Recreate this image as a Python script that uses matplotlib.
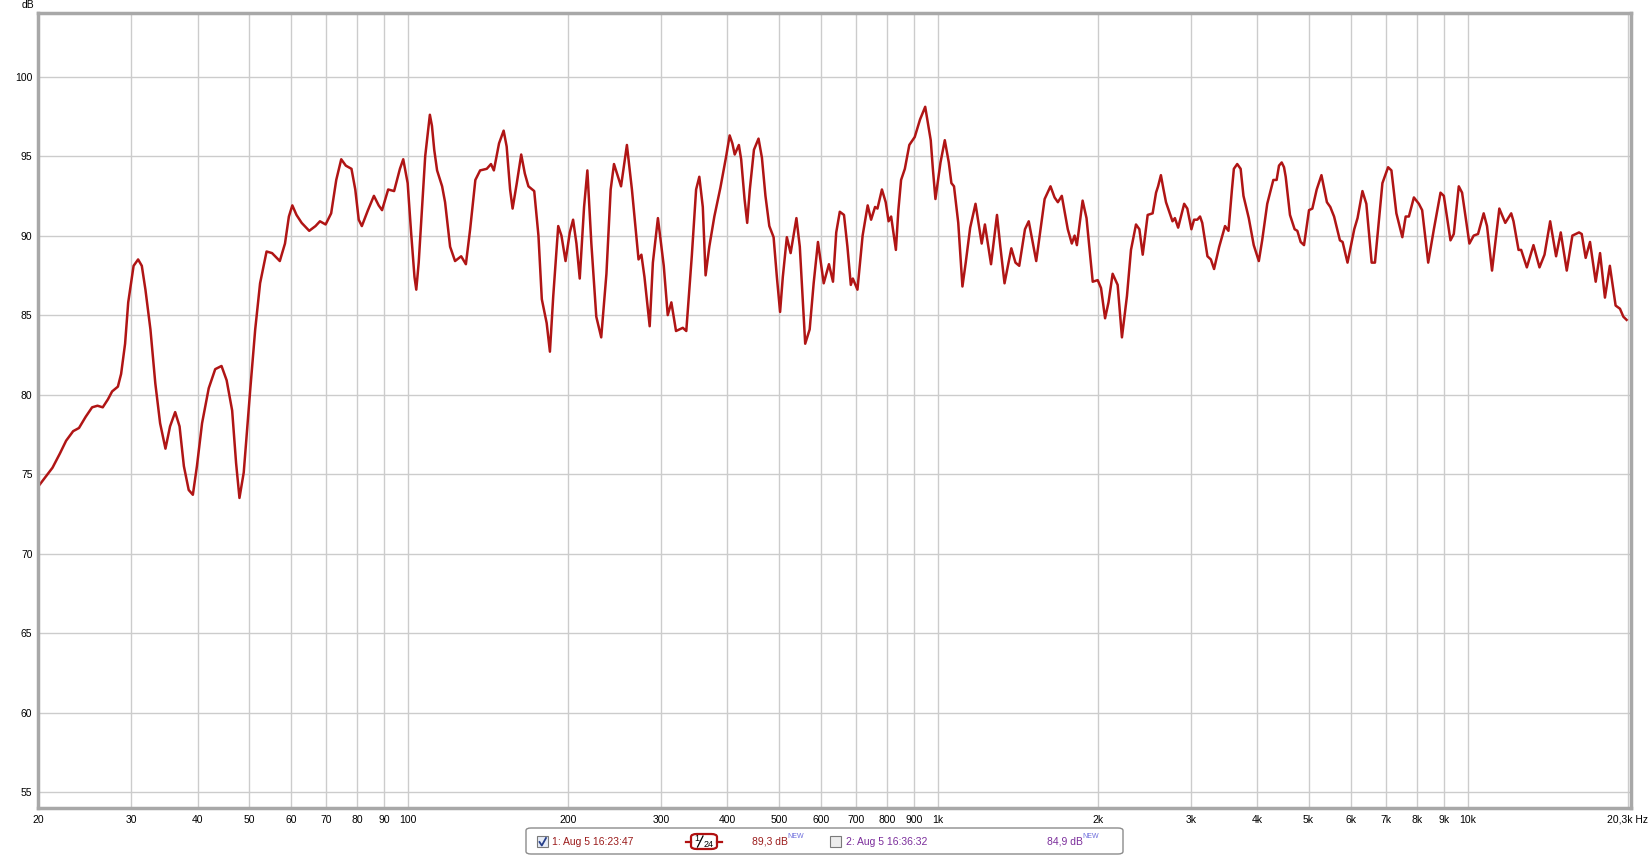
import matplotlib
matplotlib.use("Agg")
import matplotlib.pyplot as plt
from matplotlib.patches import Rectangle, FancyBboxPatch
from matplotlib.lines import Line2D

plt.rcParams['font.family'] = ['Liberation Sans', 'DejaVu Sans']

freq_hz = [
    20.0, 21.3, 22.0, 22.6, 23.3, 23.9, 24.6, 25.3, 25.9, 26.5, 27.1, 27.6, 28.3, 28.7,
    29.2, 29.6, 30.3, 30.9, 31.4, 31.9, 32.6, 33.3, 34.0, 34.8, 35.5, 36.3, 37.0, 37.7,
    38.5, 39.2, 39.9, 40.8, 42.0, 43.2, 44.4, 45.4, 46.5, 47.3, 48.0, 48.9, 50.3, 51.4,
    52.5, 54.0, 55.3, 57.2, 58.5, 59.5, 60.4, 61.5, 62.9, 65.0, 66.8, 68.1, 69.8, 71.5,
    73.1, 74.7, 76.2, 78.1, 79.4, 80.6, 81.7, 83.9, 86.1, 87.9, 89.2, 91.6, 94.0, 96.4,
    97.8, 99.7, 101.2, 102.7, 103.5, 104.6, 107.6, 109.8, 110.8, 111.9, 113.3, 115.8,
    117.3, 119.9, 122.5, 125.8, 128.4, 130.8, 133.8, 136.6, 140.6, 143.2, 145.0, 148.3,
    151.3, 153.3, 155.6, 157.3, 160.2, 163.3, 165.9, 168.5, 172.8, 176.0, 178.6, 182.4,
    185.0, 187.7, 191.8, 194.5, 198.0, 201.7, 204.6, 207.6, 210.6, 214.6, 217.7, 221.5,
    226.3, 231.2, 236.5, 240.9, 244.4, 252.0, 258.5, 264.2, 271.9, 275.3, 279.0, 285.4,
    289.4, 295.8, 303.4, 308.7, 313.6, 320.0, 329.6, 334.6, 342.7, 349.2, 354.1, 359.5,
    363.9, 369.8, 378.0, 388.0, 398.0, 404.0, 408.8, 413.0, 420.5, 424.7, 431.0, 436.0,
    441.0, 449.0, 458.0, 464.8, 472.0, 480.0, 489.0, 496.0, 503.0, 509.0, 518.0, 526.6,
    540.0, 548.0, 556.0, 561.0, 572.0, 582.0, 593.0, 608.0, 622.0, 633.0, 642.0, 652.0,
    664.0, 674.0, 684.0, 690.0, 704.0, 720.0, 736.0, 747.0, 760.0, 768.0, 783.0, 796.0,
    806.0, 815.0, 832.0, 841.0, 851.0, 865.0, 882.0, 903.0, 924.0, 945.0, 968.0, 977.0,
    988.0, 1010, 1029, 1047, 1059, 1071, 1091, 1111, 1127, 1149, 1176, 1208, 1225, 1258,
    1291, 1310, 1334, 1374, 1399, 1422, 1458, 1482, 1531, 1588, 1629, 1658, 1682, 1711,
    1756, 1787, 1809, 1827, 1873, 1905, 1957, 2000, 2029, 2065, 2096, 2134, 2181, 2222,
    2271, 2311, 2362, 2397, 2432, 2485, 2539, 2577, 2600, 2632, 2662, 2691, 2768, 2797,
    2837, 2912, 2952, 3005, 3040, 3083, 3120, 3150, 3222, 3270, 3316, 3391, 3478, 3530,
    3584, 3614, 3667, 3722, 3768, 3856, 3940, 4028, 4087, 4178, 4290, 4352, 4397, 4449,
    4494, 4527, 4612, 4706, 4762, 4831, 4902, 5010, 5083, 5180, 5288, 5415, 5495, 5586,
    5730, 5797, 5922, 6098, 6186, 6319, 6427, 6577, 6672, 6892, 7064, 7167, 7323, 7515,
    7625, 7732, 7902, 8075, 8191, 8409, 8619, 8871, 9000, 9264, 9398, 9604, 9743, 10058,
    10248, 10442, 10702, 10858, 11097, 11455, 11755, 12062, 12183, 12452, 12595, 12910,
    13287, 13639, 13940, 14287, 14659, 14960, 15355, 15736, 16196, 16386, 16670, 16987,
    17413, 17746, 18126, 18517, 18987, 19350, 19637, 19915,
]
level_db = [
    74.2, 75.4, 76.3, 77.1, 77.7, 77.9, 78.6, 79.2, 79.3, 79.2, 79.7, 80.2, 80.5, 81.3,
    83.2, 85.8, 88.1, 88.5, 88.1, 86.6, 84.1, 80.7, 78.2, 76.6, 78.0, 78.9, 78.0, 75.5,
    74.0, 73.7, 75.5, 78.2, 80.4, 81.6, 81.8, 80.9, 79.0, 75.7, 73.5, 75.1, 80.3, 84.1,
    87.0, 89.0, 88.9, 88.4, 89.5, 91.2, 91.9, 91.3, 90.8, 90.3, 90.6, 90.9, 90.7, 91.4,
    93.5, 94.8, 94.4, 94.2, 92.9, 91.0, 90.6, 91.6, 92.5, 91.9, 91.6, 92.9, 92.8, 94.2,
    94.8, 93.3, 90.2, 87.4, 86.6, 88.3, 95.0, 97.6, 96.9, 95.4, 94.1, 93.1,
    92.1, 89.3, 88.4, 88.7, 88.2, 90.4, 93.5, 94.1, 94.2, 94.5, 94.1, 95.8,
    96.6, 95.6, 92.9, 91.7, 93.3, 95.1, 93.9, 93.1, 92.8, 90.0, 86.0, 84.5,
    82.7, 86.2, 90.6, 90.0, 88.4, 90.2, 91.0, 89.5, 87.3, 91.8, 94.1, 89.5,
    84.9, 83.6, 87.6, 92.9, 94.5, 93.1, 95.7, 92.9, 88.5, 88.8, 87.4, 84.3,
    88.3, 91.1, 88.1, 85.0, 85.8, 84.0, 84.2, 84.0, 88.7, 92.9, 93.7, 91.8,
    87.5, 89.3, 91.2, 93.0, 95.0, 96.3, 95.8, 95.1, 95.7, 94.8, 92.3, 90.8,
    92.9, 95.4, 96.1, 94.9, 92.5, 90.6, 89.9, 87.4, 85.2, 87.4, 89.9, 88.9,
    91.1, 89.3, 85.5, 83.2, 84.1, 87.0, 89.6, 87.0, 88.2, 87.1, 90.2, 91.5,
    91.3, 89.3, 86.9, 87.3, 86.6, 90.0, 91.9, 91.0, 91.8, 91.7, 92.9, 92.1,
    90.9, 91.2, 89.1, 91.6, 93.5, 94.2, 95.7, 96.2, 97.3, 98.1, 96.0, 94.2,
    92.3, 94.6, 96.0, 94.6, 93.3, 93.1, 90.8, 86.8, 88.3, 90.5, 92.0, 89.5, 90.7, 88.2,
    91.3, 89.3, 87.0, 89.2, 88.3, 88.1, 90.4, 90.9, 88.4, 92.3, 93.1, 92.4, 92.1, 92.5,
    90.4, 89.5, 90.0, 89.4, 92.2, 91.1, 87.1, 87.2, 86.7, 84.8, 85.8, 87.6, 86.9, 83.6,
    86.2, 89.1, 90.7, 90.4, 88.8, 91.3, 91.4, 92.7, 93.1, 93.8, 92.9, 92.1, 90.9, 91.1,
    90.5, 92.0, 91.7, 90.4, 91.0, 91.0, 91.2, 90.8, 88.7, 88.5, 87.9, 89.3, 90.6, 90.3,
    92.9, 94.2, 94.5, 94.2, 92.5, 91.1, 89.4, 88.4, 89.7, 92.0, 93.5, 93.5, 94.4, 94.6,
    94.3, 93.7, 91.3, 90.4, 90.3, 89.6, 89.4, 91.6, 91.7, 92.9, 93.8, 92.1, 91.8, 91.2,
    89.7, 89.6, 88.3, 90.4, 91.1, 92.8, 92.0, 88.3, 88.3, 93.3, 94.3, 94.1, 91.4, 89.9,
    91.2, 91.2, 92.4, 92.0, 91.6, 88.3, 90.4, 92.7, 92.5, 89.7, 90.1, 93.1, 92.7, 89.5,
    90.0, 90.1, 91.4, 90.6, 87.8, 91.7, 90.8, 91.4, 90.9, 89.1, 89.1, 88.0,
    89.4, 88.0, 88.8, 90.9, 88.7, 90.2, 87.8, 90.0, 90.2, 90.1, 88.6, 89.6,
    87.1, 88.9, 86.1, 88.1, 85.6, 85.4, 84.9, 84.7,
]

xtick_vals = [20, 30, 40, 50, 60, 70, 80, 90, 100, 200, 300, 400, 500, 600, 700, 800, 900,
              1000, 2000, 3000, 4000, 5000, 6000, 7000, 8000, 9000, 10000, 20000]
xtick_labels = ['20', '30', '40', '50', '60', '70', '80', '90', '100', '200', '300', '400',
                '500', '600', '700', '800', '900', '1k', '2k', '3k', '4k', '5k', '6k', '7k',
                '8k', '9k', '10k', '']
ytick_vals = [55, 60, 65, 70, 75, 80, 85, 90, 95, 100]

W, H = 1650, 856
fig = plt.figure(figsize=(W / 100, H / 100), dpi=100)
fig.patch.set_facecolor('white')
ax = fig.add_axes([38 / W, 1 - 808 / H, 1593 / W, 795 / H])

ax.plot(freq_hz, level_db, color='#b01515', lw=1.8, solid_joinstyle='round')
ax.set_xscale('log')
ax.set_xlim(20, 20300)
ax.set_ylim(54, 104)
ax.set_xticks(xtick_vals)
ax.set_xticklabels(xtick_labels)
ax.minorticks_off()
ax.set_yticks(ytick_vals)
ax.grid(True, color='#cccccc', lw=1)
ax.tick_params(length=0, labelsize=7.5, colors='black')
ax.tick_params(axis='x', pad=5)
ax.tick_params(axis='y', pad=4)
for s in ax.spines.values():
    s.set_color('#a8a8a8')
    s.set_linewidth(2.5)


def px(x, y):
    return x / W, 1 - y / H


fig.text(*px(34, 5), 'dB', ha='right', va='center', fontsize=7.5)
fig.text(*px(1648, 820), '20,3k Hz', ha='right', va='center', fontsize=7.5)

# legend strip under the plot
tf = fig.transFigure
x0, y0 = px(526, 854)
fig.patches.append(FancyBboxPatch((x0, y0), 597 / W, 26 / H, transform=tf,
                                  boxstyle='round,pad=0,rounding_size=0.003',
                                  fc='white', ec='#8c8c8c', lw=1))
# checkboxes
for cx, fc in [(537, '#e6ecf7'), (830, '#ececec')]:
    fig.patches.append(Rectangle(px(cx, 847), 11 / W, 11 / H, transform=tf,
                                 fc=fc, ec='#7a7a7a', lw=0.8))
fig.lines.append(Line2D([539.5 / W, 541.8 / W, 546 / W],
                        [1 - 842 / H, 1 - 845.5 / H, 1 - 838 / H],
                        transform=tf, color='#27408b', lw=1.3))

red = '#9b1b1b'
purple = '#7b2d9b'
new_col = '#6b6bdc'
fig.text(*px(552, 842), '1: Aug 5 16:23:47', color=red, fontsize=7.5, va='center')
fig.text(*px(752, 842), '89,3 dB', color=red, fontsize=7.5, va='center')
fig.text(*px(787, 837), 'NEW', color=new_col, fontsize=5, va='center')
fig.text(*px(846, 842), '2: Aug 5 16:36:32', color=purple, fontsize=7.5, va='center')
fig.text(*px(1047, 842), '84,9 dB', color=purple, fontsize=7.5, va='center')
fig.text(*px(1082, 837), 'NEW', color=new_col, fontsize=5, va='center')

# smoothing icon: stubs either side of a rounded box holding 1/24
for xa, xb in [(686, 691), (717, 722)]:
    fig.lines.append(Line2D([xa / W, xb / W], [1 - 842 / H, 1 - 842 / H], transform=tf,
                            color='#b01010', lw=1.6))
bx, by = px(691, 849)
fig.patches.append(FancyBboxPatch((bx, by), 26 / W, 15 / H, transform=tf,
                                  boxstyle='round,pad=0,rounding_size=0.0035',
                                  fc='white', ec='#b01010', lw=1.6))
fig.text(*px(697, 838.5), '1', fontsize=6.5, ha='center', va='center')
fig.lines.append(Line2D([697.5 / W, 703 / W], [1 - 847 / H, 1 - 836 / H], transform=tf,
                        color='black', lw=0.9))
fig.text(*px(709, 844.5), '24', fontsize=6.5, ha='center', va='center')

fig.savefig('out.png', dpi=100)
